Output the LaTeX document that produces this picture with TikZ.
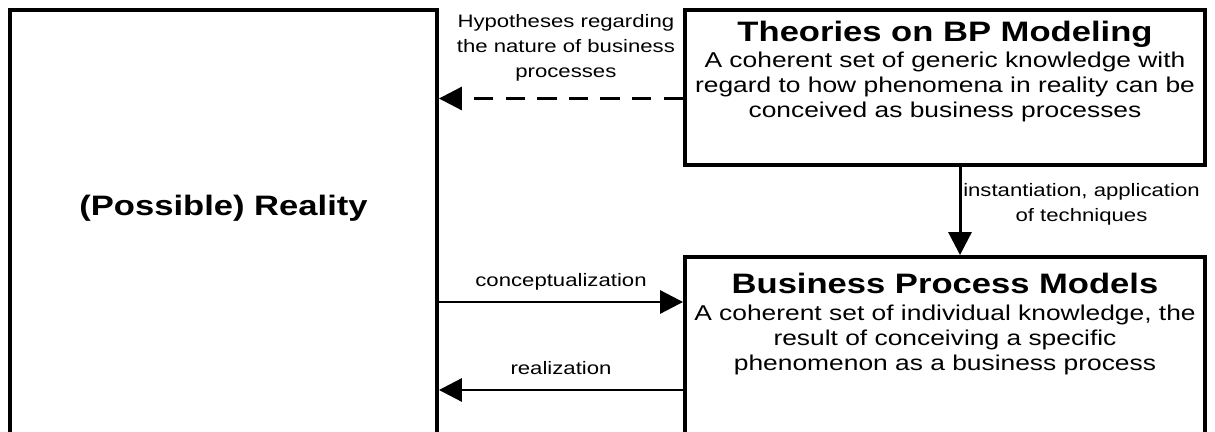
\documentclass[tikz,border=0pt]{standalone}
\usepackage{fontspec}
\setmainfont[FakeStretch=1.23]{Liberation Sans}
\usetikzlibrary{arrows.meta}

\tikzset{
  box/.style={draw, line width=2.2pt, inner sep=0pt},
  boxtext/.style={align=center, inner sep=0pt, font=\fontsize{12.2}{14.2}\selectfont},
  boxtitle/.style={inner sep=0pt, font=\fontsize{16}{18}\selectfont\bfseries},
  lab/.style={align=center, inner sep=1pt, font=\fontsize{10.25}{14.2}\selectfont},
  conn/.style={line width=1.7pt, -{Triangle[length=13pt,width=13pt]}},
}

\begin{document}
\begin{tikzpicture}
\useasboundingbox (0,0) rectangle (24.3,-8.64);
\clip (0,0) rectangle (24.3,-8.64);
% boxes
\node[box, minimum width=8.54cm, minimum height=8.8cm] (real) at (4.47,-4.6) {};
\node[box, minimum width=10.4cm, minimum height=3.1cm] (theo) at (18.9,-1.75) {};
\node[box, minimum width=10.4cm, minimum height=3.9cm] (bpm) at (18.9,-7.09) {};
% box texts (base = last line)
\node[boxtitle, anchor=base] (realtxt) at (real.center |- 0,-4.32) {(Possible) Reality};
\node[boxtitle, anchor=base] (theottl) at ([yshift=-0.66cm]theo.north) {Theories on BP Modeling};
\node[boxtext, anchor=base] (theotxt) at ([yshift=-2.18cm]theo.north) {A coherent set of generic knowledge with\\regard to how phenomena in reality can be\\conceived as business processes};
\node[boxtitle, anchor=base] (bpmttl) at ([yshift=-0.76cm]bpm.north) {Business Process Models};
\node[boxtext, anchor=base] (bpmtxt) at ([yshift=-2.3cm]bpm.north) {A coherent set of individual knowledge, the\\result of conceiving a specific\\phenomenon as a business process};
% connectors
\draw[conn, dashed, dash pattern=on 11pt off 7pt] ([yshift=-0.22cm]theo.west) -- ([yshift=-0.22cm]theo.west -| real.east)
  node[lab, pos=0.48, above=8pt] (hyp) {Hypotheses regarding\\the nature of business\\processes};
\draw[conn] ([xshift=0.3cm]theo.south) -- ([xshift=0.3cm]theo.south |- bpm.north)
  node[lab, pos=0.42, right=0pt] (inst) {instantiation, application\\of techniques};
\draw[conn] (real.east |- 0,-6.04) -- (bpm.west |- 0,-6.04)
  node[lab, midway, above=5pt] (conc) {conceptualization};
\draw[conn] (bpm.west |- 0,-7.8) -- (real.east |- 0,-7.8)
  node[lab, midway, above=7pt] (realiz) {realization};
\end{tikzpicture}
\end{document}
